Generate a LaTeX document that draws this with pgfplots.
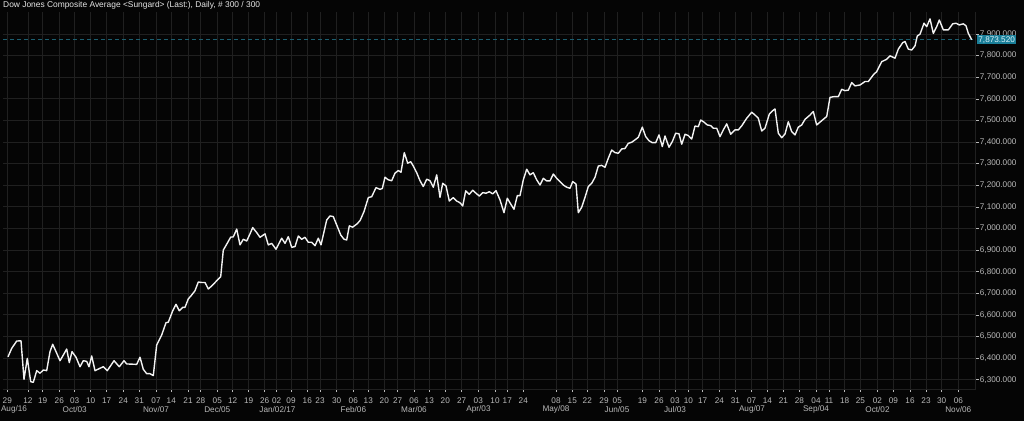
\documentclass[border=0pt]{standalone}
\usepackage{fontspec}
\setmainfont{Liberation Sans}
\usepackage{pgfplots}
\pgfplotsset{compat=1.18}
\definecolor{bg}{HTML}{050505}
\definecolor{gridc}{HTML}{202020}
\definecolor{tickc}{HTML}{B8B8B8}
\definecolor{titlec}{HTML}{E6E6E6}
\definecolor{linec}{HTML}{F2F2F2}
\definecolor{dashc}{HTML}{1C5F70}
\definecolor{boxc}{HTML}{1A7F99}
\definecolor{boxtext}{HTML}{DDF3FA}
\begin{document}
\begin{tikzpicture}[x=1pt,y=1pt]
\fill[bg] (0,0) rectangle (1024,421);
\node[anchor=west, text=titlec, font=\fontsize{8.4}{10}\selectfont, inner sep=0pt] at (3,415.3) {Dow Jones Composite Average <Sungard> (Last:), Daily, \# 300 / 300};
\begin{axis}[at={(3pt,32pt)}, anchor=south west, scale only axis,
  width=972.7pt, height=377pt,
  xmin=3, xmax=975.7, ymin=6257, ymax=8001.8,
  axis x line*=bottom, axis y line*=right,
  axis line style={draw=gridc, line width=0.8pt, -},
  grid=major, major grid style={draw=gridc, line width=0.8pt},
  tick align=outside, major tick length=3pt,
  tick style={draw=tickc, line width=0.6pt},
  every tick label/.append style={font=\fontsize{8.2}{9}\selectfont, text=tickc},
  clip mode=individual,
  ytick={6300,6400,6500,6600,6700,6800,6900,7000,7100,7200,7300,7400,7500,7600,7700,7800,7900},
  yticklabel={\pgfmathprintnumber[fixed,fixed zerofill,precision=3,1000 sep={,},assume math mode=true]{\tick}},
  yticklabel style={anchor=west, inner sep=0pt, xshift=1pt},
  xtick={7.3,28,42.7,59.3,74.7,90.7,106.7,123.3,139.3,156,171.3,188,200.7,217.3,232.7,248.7,264.7,276.7,291,307.3,320,336.7,353.3,368.3,384.3,397.7,414,429.3,445.3,461.7,478.3,495,507.3,523.3,556,572.3,587.3,604,617.3,642.3,659,675,688.3,702.7,719.3,735.3,751.7,767.3,783.3,799.3,816,829,844.7,860.3,877.3,893.3,910,926,941.7,958.3},
  xticklabels={29,12,19,26,03,10,17,24,31,07,14,21,28,05,12,19,26,02,09,16,23,30,06,13,20,27,06,13,20,27,03,10,17,24,08,15,22,29,05,19,26,03,10,17,24,31,07,14,21,28,04,11,18,25,02,09,16,23,30,06},
  xticklabel style={anchor=center, inner sep=0pt, yshift=-8.7pt},
  extra x ticks={14,74.7,156,217.3,277.5,353.3,414,478.5,556,617,675,752,816,877.5,958.3},
  extra x tick labels={Aug/16,Oct/03,Nov/07,Dec/05,Jan/02/17,Feb/06,Mar/06,Apr/03,May/08,Jun/05,Jul/03,Aug/07,Sep/04,Oct/02,Nov/06},
  extra x tick style={grid=none, major tick length=0pt, xticklabel style={yshift=-11.6pt}},
]
\addplot[dashc, line width=0.8pt, dash pattern=on 4pt off 3pt] coordinates {(3,7873.52) (975.7,7873.52)};
\addplot[linec, line width=1.4pt, line join=round] coordinates {
(8,6406) (11.7,6445) (16.7,6479) (21,6480) (24,6302) (27.3,6399) (30.7,6291) (33.3,6288)
(36.7,6342) (40,6330) (43.3,6345) (46.7,6342) (50,6430) (52.7,6464) (56,6430) (60,6388)
(63.3,6414) (66.7,6442) (69.3,6379) (72,6430) (76,6404) (80,6360) (83.3,6388) (86.7,6385)
(89,6360) (91.7,6410) (95,6342) (100,6353) (103.3,6360) (107.3,6342) (114,6388) (119.3,6360)
(124,6388) (126.7,6373) (136.7,6371) (140,6404) (143.3,6348) (146.7,6328) (150,6328) (153.3,6319)
(156.7,6461) (161.7,6507) (166,6564) (168.3,6566) (172.7,6619) (176,6649) (179.3,6619) (182.7,6635)
(185,6635) (188.3,6674) (191.7,6692) (195,6712) (198.3,6752) (201.7,6750) (205,6750) (208.3,6720)
(211.7,6734) (216.7,6758) (220.7,6777) (223.3,6900) (226.7,6927) (230.7,6960) (233.3,6961) (236.7,6997)
(240,6924) (243.3,6950) (246.7,6942) (250,6975) (252.7,7004) (256.7,6981) (260,6959) (265,6975)
(268.3,6924) (271.7,6931) (276,6904) (281.7,6955) (285,6931) (288.3,6962) (291.7,6913) (295,6916)
(298.3,6965) (301.7,6950) (305,6959) (308.3,6936) (311.7,6936) (315,6920) (318.3,6955) (321,6924)
(326.7,7039) (330,7058) (333.3,7055) (336.7,7016) (340.7,6970) (344,6950) (346.7,6947) (349.3,7012)
(352.7,7006) (356.7,7020) (360,7036) (364,7078) (368.3,7143) (371.7,7147) (376,7189) (380,7181)
(382.3,7185) (385,7237) (388.3,7225) (391.7,7221) (395,7256) (398.3,7268) (401,7260) (404.3,7351)
(407.7,7302) (410.7,7309) (413.3,7289) (416.7,7258) (420,7221) (423.3,7194) (426.7,7228) (430,7221)
(433.3,7191) (436.7,7248) (440,7144) (442.7,7209) (446,7197) (449.3,7127) (453.3,7143) (456.7,7127)
(460,7119) (462.7,7104) (465.7,7174) (469.3,7158) (472.7,7177) (476,7163) (479.3,7150) (482.7,7166)
(486,7163) (489.3,7170) (492.7,7160) (496,7175) (500,7132) (504,7073) (507.3,7140) (510.7,7113)
(514,7089) (517.3,7152) (520,7152) (523.3,7225) (526.7,7274) (530,7248) (533.3,7258) (536.7,7225)
(540,7201) (543.3,7232) (546.7,7220) (550,7220) (553.3,7252) (556.7,7232) (560,7217) (563.3,7201)
(566.7,7191) (570,7186) (572.7,7217) (576,7206) (578.3,7073) (581.7,7098) (585,7144) (588.3,7194)
(591.7,7209) (595,7237) (598.3,7289) (601.7,7292) (605,7283) (608.3,7325) (611.7,7363) (615,7351)
(618.3,7348) (621.7,7368) (625,7370) (628.3,7394) (631.7,7399) (635,7410) (638.3,7422) (642.3,7469)
(645.7,7425) (649,7406) (652.3,7397) (655.7,7397) (659,7433) (662.3,7379) (665,7428) (669,7376)
(672.3,7402) (675.7,7441) (679,7438) (681.7,7390) (685,7436) (688.3,7430) (691.7,7414) (695,7474)
(698.3,7471) (700.7,7502) (704,7492) (707.3,7479) (710.7,7476) (713.3,7464) (716.7,7464) (720,7425)
(723.3,7456) (726.7,7484) (730.7,7436) (735,7456) (738.3,7456) (741.7,7475) (746.7,7510) (751.7,7538)
(755,7525) (758.3,7510) (761.7,7451) (765,7464) (769.3,7529) (772.7,7545) (775,7553) (778.3,7441)
(781.7,7420) (785,7437) (788.3,7494) (791.7,7448) (795,7433) (798.3,7469) (801.7,7479) (805,7505)
(810,7525) (813.3,7541) (816.7,7479) (821.7,7499) (826.7,7518) (830,7607) (834,7610) (838.3,7610)
(841.7,7644) (845,7638) (848.3,7640) (851.7,7675) (855,7660) (860,7664) (865,7680) (868.3,7680)
(873.3,7711) (876.7,7726) (881.7,7772) (886.7,7783) (890,7799) (895,7788) (898.3,7830) (902.7,7860)
(905,7865) (908.3,7830) (911.7,7826) (915,7845) (917.3,7891) (920,7899) (924,7950) (926.7,7934)
(930,7970) (933.3,7903) (936.7,7934) (939.3,7965) (943.3,7919) (948.3,7919) (952.7,7947) (956,7950)
(959.3,7942) (963.3,7947) (966,7938) (968.3,7903) (971.7,7873.52)
};
\coordinate (cur) at (axis cs:975.7,7873.52);
\end{axis}
\node[anchor=west, fill=boxc, text=boxtext, font=\fontsize{8.2}{9}\selectfont, inner xsep=1.5pt, inner ysep=0pt, minimum height=9.5pt] at ([xshift=1pt]cur) {7,873.520};
\end{tikzpicture}
\end{document}
